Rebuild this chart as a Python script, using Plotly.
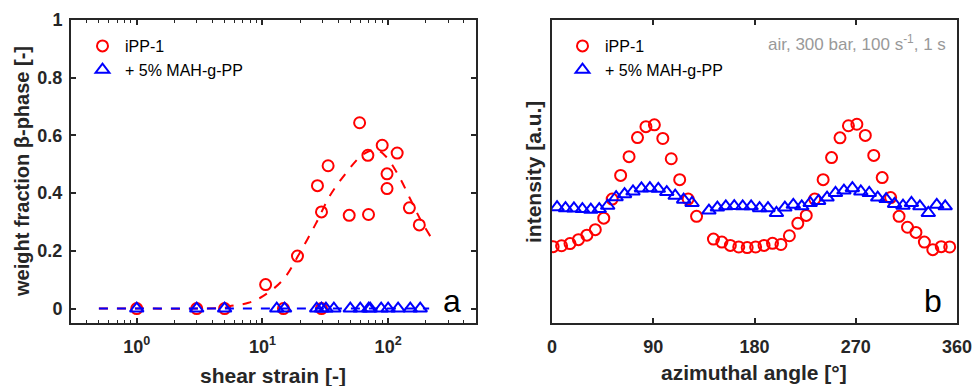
import plotly.graph_objects as go

# ---------------- panel a data ----------------
strain_ipp = [1, 3, 5, 10.6, 14.7, 19, 27.4, 29.5, 29.5, 33.3, 49, 59.3, 69, 69.8,
              89.7, 98, 98, 118, 147.6, 177]
beta_ipp = [0, 0, 0, 0.083, 0, 0.182, 0.426, 0.335, 0, 0.495, 0.323, 0.644, 0.531,
            0.326, 0.566, 0.467, 0.416, 0.539, 0.349, 0.290]
strain_mah = [1, 3, 5, 13, 15, 27, 29.5, 32, 37, 50, 60, 70, 72, 88, 100, 120, 150, 180]
beta_mah = [0, 0, 0, 0, 0, 0, 0, 0, 0, 0, 0, 0, 0, 0, 0, 0, 0, 0]
fit_strain_ipp = [0.5, 1, 3, 5, 5.5, 7.75, 10.1, 14.6, 19.8, 26.8, 34.2, 46.3, 62.7,
                  80, 96, 122, 151, 181, 217]
fit_beta_ipp = [0, 0, 0, 0.003, 0.008, 0.02, 0.043, 0.10, 0.193, 0.297, 0.389, 0.47,
                0.533, 0.55, 0.527, 0.458, 0.377, 0.308, 0.25]
fit_strain_mah = [0.5, 212]
fit_beta_mah = [0, 0]
strain_ticks = [1, 10, 100]
strain_ticktext = ["10<sup>0</sup>", "10<sup>1</sup>", "10<sup>2</sup>"]
strain_minor_ticks = [0.3, 0.4, 0.5, 0.6, 0.7, 0.8, 0.9, 2, 3, 4, 5, 6, 7, 8, 9,
                      20, 30, 40, 50, 60, 70, 80, 90, 200, 300, 400]
beta_ticks = [0, 0.2, 0.4, 0.6, 0.8, 1]
beta_ticktext = ["0", "0.2", "0.4", "0.6", "0.8", "1"]

# ---------------- panel b data ----------------
angle_ipp = [1, 8.5, 16, 23.5, 31, 38.5, 46, 53.5, 61, 68.5, 76, 83.5, 91, 98.5, 106,
             113.5, 121, 128.5, 143.5, 151, 158.5, 166, 173.5, 181, 188.5, 196, 203.5,
             211, 218.5, 226, 233.5, 241, 248.5, 256, 263.5, 271, 278.5, 286, 293.5,
             301, 308.5, 316, 323.5, 331, 338.5, 346, 353.5]
int_ipp = [0.252, 0.255, 0.262, 0.275, 0.290, 0.308, 0.346, 0.409, 0.487, 0.549, 0.612,
           0.648, 0.654, 0.609, 0.542, 0.473, 0.409, 0.352, 0.277, 0.267, 0.256, 0.251,
           0.249, 0.251, 0.256, 0.263, 0.259, 0.288, 0.329, 0.355, 0.409, 0.473, 0.546,
           0.611, 0.651, 0.656, 0.619, 0.553, 0.480, 0.414, 0.352, 0.316, 0.299, 0.267,
           0.242, 0.252, 0.251]
angle_mah = [4.5, 12, 19.5, 27, 34.5, 42, 49.5, 57, 64.5, 72, 79.5, 87, 94.5, 102,
             109.5, 117, 124.5, 139.5, 147, 154.5, 162, 169.5, 177, 184.5, 192, 199.5,
             207, 214.5, 222, 229.5, 237, 244.5, 252, 259.5, 267, 274.5, 282, 289.5,
             297, 304.5, 312, 319.5, 327, 334.5, 342, 349.5]
int_mah = [0.382, 0.379, 0.378, 0.376, 0.374, 0.376, 0.387, 0.415, 0.425, 0.434, 0.444,
           0.445, 0.443, 0.432, 0.420, 0.407, 0.396, 0.371, 0.381, 0.385, 0.386, 0.385,
           0.385, 0.379, 0.379, 0.363, 0.381, 0.390, 0.385, 0.396, 0.403, 0.414, 0.429,
           0.437, 0.445, 0.434, 0.429, 0.414, 0.409, 0.393, 0.387, 0.396, 0.385, 0.363,
           0.390, 0.385]
angle_ticks = [0, 90, 180, 270, 360]

RED = "#ff0000"
BLUE = "#0000ff"
AX = "#262626"
FONT = "Liberation Sans"

fig = go.Figure()

# panel a
fig.add_trace(go.Scatter(x=fit_strain_ipp, y=fit_beta_ipp, mode="lines",
                         line=dict(color=RED, width=2, dash="dash", shape="spline"),
                         showlegend=False, xaxis="x", yaxis="y"))
fig.add_trace(go.Scatter(x=strain_ipp, y=beta_ipp, mode="markers", name="iPP-1",
                         marker=dict(symbol="circle-open", size=11, color=RED,
                                     line=dict(width=2, color=RED)),
                         xaxis="x", yaxis="y", legend="legend"))
fig.add_trace(go.Scatter(x=fit_strain_mah, y=fit_beta_mah, mode="lines",
                         line=dict(color=BLUE, width=2, dash="dash"),
                         showlegend=False, xaxis="x", yaxis="y"))
fig.add_trace(go.Scatter(x=strain_mah, y=beta_mah, mode="markers", name="+ 5% MAH-g-PP",
                         marker=dict(symbol="triangle-up-open", size=12, color=BLUE,
                                     line=dict(width=2, color=BLUE)),
                         xaxis="x", yaxis="y", legend="legend"))

# panel b
fig.add_trace(go.Scatter(x=angle_ipp, y=int_ipp, mode="markers", name="iPP-1",
                         marker=dict(symbol="circle-open", size=11, color=RED,
                                     line=dict(width=2, color=RED)),
                         xaxis="x2", yaxis="y2", legend="legend2"))
fig.add_trace(go.Scatter(x=angle_mah, y=int_mah, mode="markers", name="+ 5% MAH-g-PP",
                         marker=dict(symbol="triangle-up-open", size=12, color=BLUE,
                                     line=dict(width=2, color=BLUE)),
                         xaxis="x2", yaxis="y2", legend="legend2"))

tickfont = dict(family=FONT, size=18, color=AX, weight="bold")
common = dict(showline=True, linewidth=2, linecolor=AX, mirror="ticks",
              showgrid=False, zeroline=False, ticks="inside", tickcolor=AX,
              tickwidth=1.5, ticklen=5, tickfont=tickfont, automargin=False)

W, H = 974, 386
ydom = [(H - 323) / H, (H - 20) / H]
title_font = dict(family=FONT, size=21, color=AX, weight="bold")
ytitle_font = dict(family=FONT, size=20, color=AX, weight="bold")
legend_font = dict(family=FONT, size=16, color="black")

fig.update_layout(
    template="none",
    width=W, height=H, margin=dict(l=0, r=0, t=0, b=0, pad=0), autosize=False,
    paper_bgcolor="white", plot_bgcolor="white",
    xaxis=dict(type="log", range=[-0.523, 2.699], domain=[71 / W, 476 / W],
               anchor="y", tickvals=strain_ticks, ticktext=strain_ticktext,
               minor=dict(tickmode="array", tickvals=strain_minor_ticks,
                          ticks="inside", ticklen=3, tickcolor=AX, tickwidth=1,
                          showgrid=False),
               ticklabelstandoff=6, **common),
    yaxis=dict(range=[-0.05, 1], domain=ydom, anchor="x",
               tickvals=beta_ticks, ticktext=beta_ticktext,
               ticklabelstandoff=3, **common),
    xaxis2=dict(range=[0, 360], domain=[552 / W, 957 / W], anchor="y2",
                tickvals=angle_ticks, ticklabelstandoff=6, **common),
    yaxis2=dict(range=[0, 1], domain=ydom, anchor="x2", showline=True, linewidth=2,
                linecolor=AX, mirror=True, showgrid=False, zeroline=False,
                ticks="", showticklabels=False, automargin=False),
    legend=dict(x=80 / W, y=1 - 29 / H, xanchor="left", yanchor="top",
                bgcolor="rgba(0,0,0,0)", font=legend_font, borderwidth=0,
                tracegroupgap=0, itemwidth=35),
    legend2=dict(x=560 / W, y=1 - 29 / H, xanchor="left", yanchor="top",
                 bgcolor="rgba(0,0,0,0)", font=legend_font, borderwidth=0,
                 tracegroupgap=0, itemwidth=35),
    annotations=[
        dict(text="weight fraction β-phase [-]", xref="paper", yref="paper",
             x=22 / W, y=1 - 172 / H, xanchor="center", yanchor="middle",
             textangle=-90, showarrow=False, font=ytitle_font),
        dict(text="shear strain [-]", xref="paper", yref="paper",
             x=273 / W, y=1 - 375 / H, xanchor="center", yanchor="middle",
             showarrow=False, font=title_font),
        dict(text="intensity [a.u.]", xref="paper", yref="paper",
             x=533 / W, y=1 - 172 / H, xanchor="center", yanchor="middle",
             textangle=-90, showarrow=False, font=title_font),
        dict(text="azimuthal angle [°]", xref="paper", yref="paper",
             x=754 / W, y=1 - 372 / H, xanchor="center", yanchor="middle",
             showarrow=False, font=title_font),
        dict(text="air, 300 bar, 100 s<sup>-1</sup>, 1 s", xref="paper", yref="paper",
             x=948 / W, y=1 - 43 / H, xanchor="right", yanchor="middle",
             showarrow=False, font=dict(family=FONT, size=17, color="#999999")),
        dict(text="a", xref="paper", yref="paper", x=452 / W, y=1 - 301 / H,
             xanchor="center", yanchor="middle",
             showarrow=False, font=dict(family=FONT, size=32, color="black")),
        dict(text="b", xref="paper", yref="paper", x=933 / W, y=1 - 301 / H,
             xanchor="center", yanchor="middle",
             showarrow=False, font=dict(family=FONT, size=32, color="black")),
    ],
)

fig.write_html("out.html")
